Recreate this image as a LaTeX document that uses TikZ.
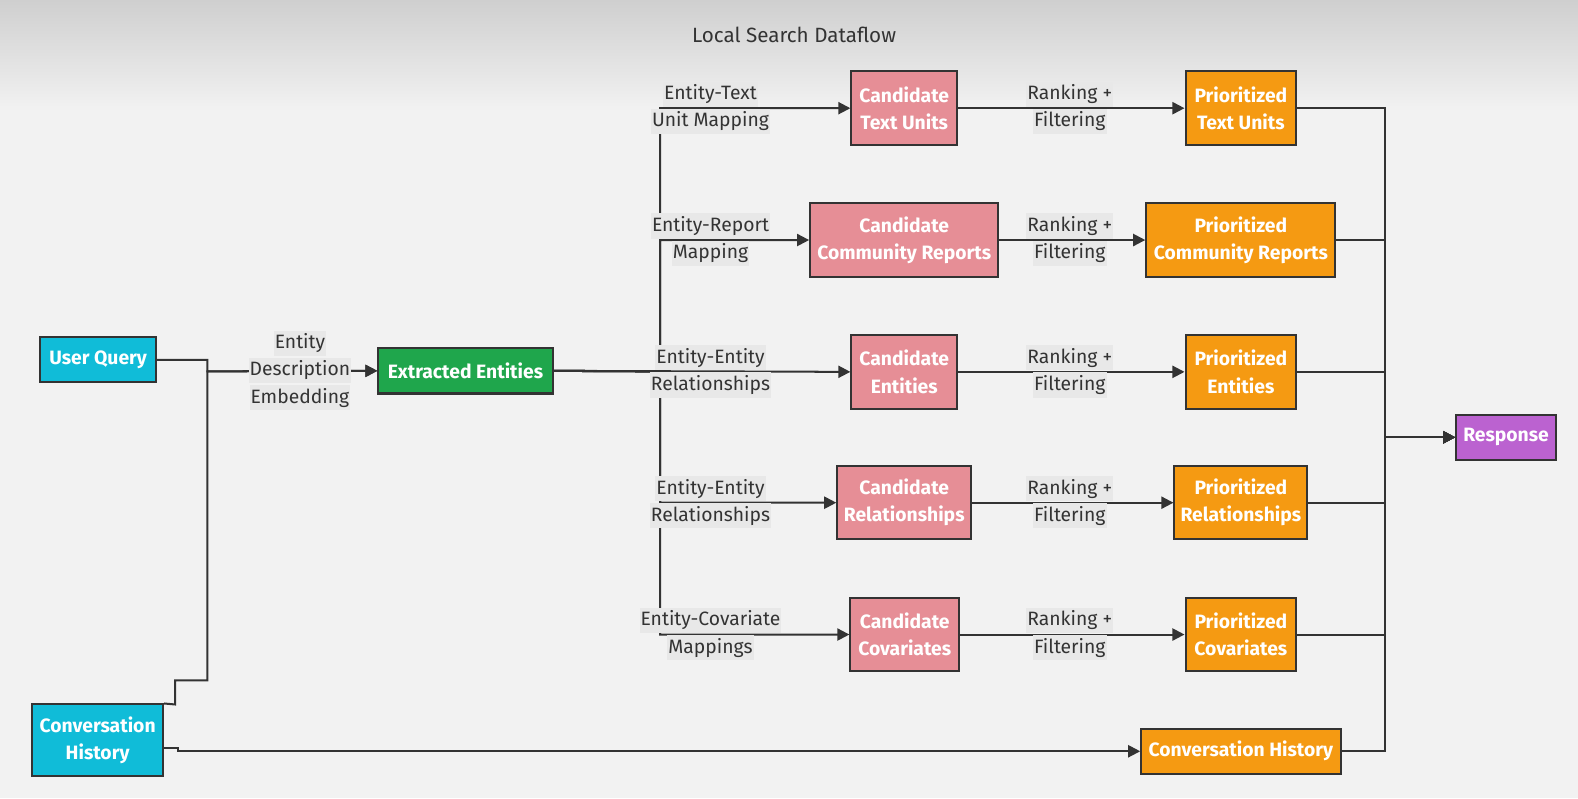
\documentclass[tikz,border=0pt]{standalone}
\usepackage{fontspec}
\setmainfont{Fira Sans}
\usetikzlibrary{arrows.meta}
\definecolor{bgc}{RGB}{242,242,242}
\definecolor{topc}{RGB}{207,207,207}
\definecolor{edgec}{RGB}{51,51,51}
\definecolor{labbg}{RGB}{232,232,232}
\definecolor{cyanc}{RGB}{16,188,216}
\definecolor{greenc}{RGB}{31,166,76}
\definecolor{pinkc}{RGB}{230,142,150}
\definecolor{orangec}{RGB}{245,154,18}
\definecolor{purplec}{RGB}{187,98,208}
\newcommand\bxfont{\fontsize{19.2}{27}\selectfont\bfseries}
\newcommand\lblfont{\fontsize{19.2}{27}\selectfont}
\begin{document}
\begin{tikzpicture}[x=1pt,y=-1pt,
  box/.style={draw=edgec, line width=2pt, text=white, font=\bxfont, align=center, inner sep=0pt},
  cyanbox/.style={box, fill=cyanc},
  greenbox/.style={box, fill=greenc},
  pinkbox/.style={box, fill=pinkc},
  orangebox/.style={box, fill=orangec},
  purplebox/.style={box, fill=purplec},
  lab/.style={fill=labbg, text=edgec, font=\lblfont, inner xsep=1pt, inner ysep=0pt, minimum height=25pt},
  conn/.style={draw=edgec, line width=2pt, -{Triangle[length=12pt,width=12pt]}},
  plain/.style={draw=edgec, line width=2pt}
]
\fill[bgc] (0,0) rectangle (1568,793);
\shade[top color=topc, bottom color=bgc] (0,0) rectangle (1568,110);
\useasboundingbox (0,0) rectangle (1568,793);

\node[text=edgec, font=\fontsize{20.5}{24}\selectfont] (title) at (789,35) {Local Search Dataflow};

% nodes
\node[cyanbox, minimum width=115pt, minimum height=45pt] (UQ) at (97.5,357.5) {User Query};
\node[cyanbox, minimum width=130pt, minimum height=71pt] (CH) at (97,735.5) {Conversation\\History};
\node[greenbox, minimum width=173pt, minimum height=45pt] (EE) at (462.5,368.5) {Extracted Entities};

\node[pinkbox, minimum width=105pt, minimum height=73pt] (CTU) at (898.5,107.5) {Candidate\\Text Units};
\node[pinkbox, minimum width=187pt, minimum height=73pt] (CCR) at (898.5,238.5) {Candidate\\Community Reports};
\node[pinkbox, minimum width=105pt, minimum height=73pt] (CE) at (898.5,369.5) {Candidate\\Entities};
\node[pinkbox, minimum width=133pt, minimum height=73pt] (CR) at (898.5,499.5) {Candidate\\Relationships};
\node[pinkbox, minimum width=108pt, minimum height=73pt] (CC) at (899,630.5) {Candidate\\Covariates};

\node[orangebox, minimum width=110pt, minimum height=73pt] (PTU) at (1233,107.5) {Prioritized\\Text Units};
\node[orangebox, minimum width=188pt, minimum height=73pt] (PCR) at (1233,238.5) {Prioritized\\Community Reports};
\node[orangebox, minimum width=110pt, minimum height=73pt] (PE) at (1233,369.5) {Prioritized\\Entities};
\node[orangebox, minimum width=132pt, minimum height=73pt] (PR) at (1233,499.5) {Prioritized\\Relationships};
\node[orangebox, minimum width=110pt, minimum height=73pt] (PC) at (1233,630.5) {Prioritized\\Covariates};
\node[orangebox, minimum width=198pt, minimum height=45pt] (CHR) at (1233,746.5) {Conversation History};

\node[purplebox, minimum width=99pt, minimum height=45pt] (RESP) at (1496.5,434.5) {Response};

% left connectors
\coordinate (lj) at (206,369);
\draw[conn] (UQ.east) -- (206,357.5) -- (lj) -- (EE.west);
\draw[conn] (CH.north east) -- (174,700) -- (174,676) -- (206,676) -- (lj) -- (EE.west);
\draw[conn] (CH.east |- 0,743) -- (177,743) -- (177,746.5) -- (CHR.west);

% fan out
\coordinate (bus) at (656,369);
\draw[conn] (EE.east) -- (bus) |- (CTU.west);
\draw[conn] (EE.east) -- (bus) |- (CCR.west);
\draw[conn] (EE.east) -- (CE.west);
\draw[conn] (EE.east) -- (bus) |- (CR.west);
\draw[conn] (EE.east) -- (bus) |- (CC.west);

% ranking
\draw[conn] (CTU.east) -- (PTU.west);
\draw[conn] (CCR.east) -- (PCR.west);
\draw[conn] (CE.east) -- (PE.west);
\draw[conn] (CR.east) -- (PR.west);
\draw[conn] (CC.east) -- (PC.west);

% merge
\coordinate (rbus) at (1376,434.5);
\draw[conn] (PTU.east) -- (PTU.east -| rbus) |- (RESP.west);
\draw[conn] (PCR.east) -- (PCR.east -| rbus) |- (RESP.west);
\draw[conn] (PE.east) -- (PE.east -| rbus) |- (RESP.west);
\draw[conn] (PR.east) -- (PR.east -| rbus) |- (RESP.west);
\draw[conn] (PC.east) -- (PC.east -| rbus) |- (RESP.west);
\draw[conn] (CHR.east) -- (CHR.east -| rbus) |- (RESP.west);

% labels
\node[lab] (l0a) at (298,341) {Entity};
\node[lab] (l0b) at (298,368) {Description};
\node[lab] (l0c) at (298,395) {Embedding};

\node[lab] (l1a) at (706,93.5) {Entity-Text};
\node[lab] (l1b) at (706,120.5) {Unit Mapping};
\node[lab] (l2a) at (706,224.5) {Entity-Report};
\node[lab] (l2b) at (706,251.5) {Mapping};
\node[lab] (l3a) at (706,355.5) {Entity-Entity};
\node[lab] (l3b) at (706,382.5) {Relationships};
\node[lab] (l4a) at (706,485.5) {Entity-Entity};
\node[lab] (l4b) at (706,512.5) {Relationships};
\node[lab] (l5a) at (706,616.5) {Entity-Covariate};
\node[lab] (l5b) at (706,643.5) {Mappings};

\foreach \n/\y in {r1/107.5, r2/238.5, r3/369.5, r4/499.5, r5/630.5}{
  \node[lab] (\n a) at (1063,\y-14) {Ranking +};
  \node[lab] (\n b) at (1063,\y+13) {Filtering};
}
\end{tikzpicture}
\end{document}
